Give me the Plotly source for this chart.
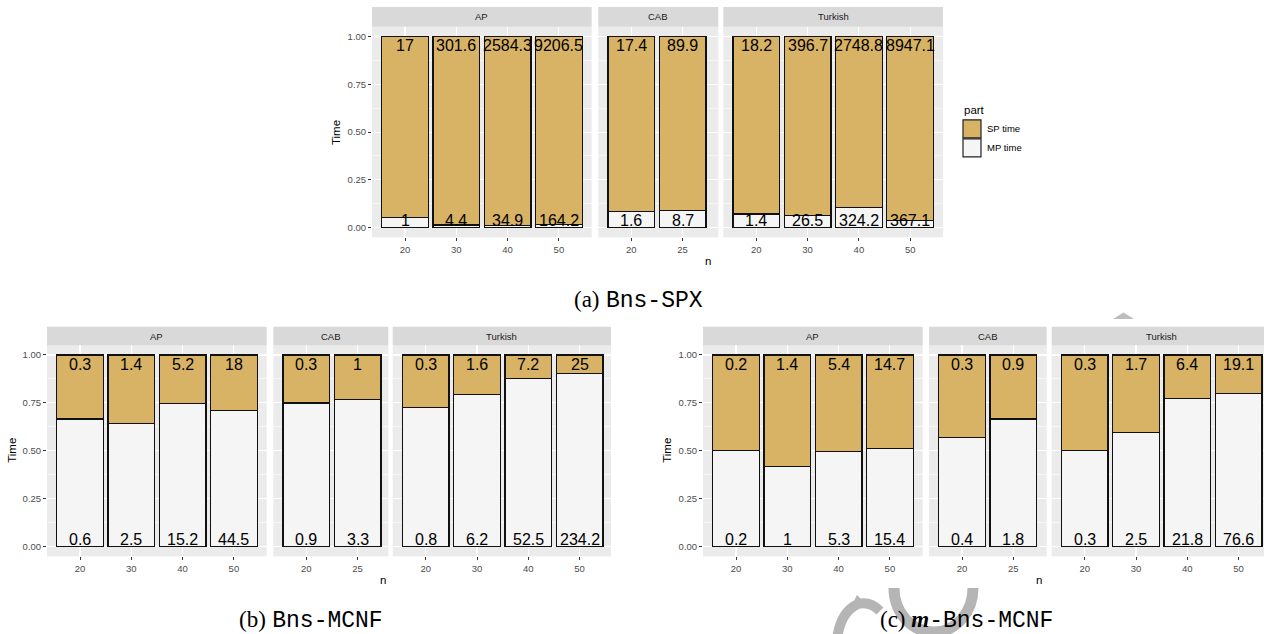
import plotly.graph_objects as go

W, H = 1264, 634

# ---------------- data ----------------
facet_names = ["AP", "CAB", "Turkish"]
n_ap = ["20", "30", "40", "50"]
n_cab = ["20", "25"]
n_tur = ["20", "30", "40", "50"]
part_names = ["SP time", "MP time"]

# (a) Bns-SPX
spx_sp_ap = [17, 301.6, 2584.3, 9206.5]
spx_mp_ap = [1, 4.4, 34.9, 164.2]
spx_sp_cab = [17.4, 89.9]
spx_mp_cab = [1.6, 8.7]
spx_sp_tur = [18.2, 396.7, 2748.8, 8947.1]
spx_mp_tur = [1.4, 26.5, 324.2, 367.1]

# (b) Bns-MCNF
mcnf_sp_ap = [0.3, 1.4, 5.2, 18]
mcnf_mp_ap = [0.6, 2.5, 15.2, 44.5]
mcnf_sp_cab = [0.3, 1]
mcnf_mp_cab = [0.9, 3.3]
mcnf_sp_tur = [0.3, 1.6, 7.2, 25]
mcnf_mp_tur = [0.8, 6.2, 52.5, 234.2]

# (c) m-Bns-MCNF
mmcnf_sp_ap = [0.2, 1.4, 5.4, 14.7]
mmcnf_mp_ap = [0.2, 1, 5.3, 15.4]
mmcnf_sp_cab = [0.3, 0.9]
mmcnf_mp_cab = [0.4, 1.8]
mmcnf_sp_tur = [0.3, 1.7, 6.4, 19.1]
mmcnf_mp_tur = [0.3, 2.5, 21.8, 76.6]

y_tickvals = [0, 0.25, 0.5, 0.75, 1.0]
y_ticktext = ["0.00", "0.25", "0.50", "0.75", "1.00"]

charts = [
    [(n_ap, spx_sp_ap, spx_mp_ap), (n_cab, spx_sp_cab, spx_mp_cab), (n_tur, spx_sp_tur, spx_mp_tur)],
    [(n_ap, mcnf_sp_ap, mcnf_mp_ap), (n_cab, mcnf_sp_cab, mcnf_mp_cab), (n_tur, mcnf_sp_tur, mcnf_mp_tur)],
    [(n_ap, mmcnf_sp_ap, mmcnf_mp_ap), (n_cab, mmcnf_sp_cab, mmcnf_mp_cab), (n_tur, mmcnf_sp_tur, mmcnf_mp_tur)],
]

# ---------------- layout geometry (pixels) ----------------
geom_x = [
    [(372, 591.7), (598.3, 718.3), (723.3, 943)],
    [(47, 266.7), (273.3, 388.3), (392.7, 611)],
    [(703, 922.7), (929, 1046.7), (1051.7, 1271.4)],
]
# panel top, panel bottom, strip top
geom_y = [(26.8, 237.3, 7.0), (345.4, 556.3, 326.7), (345.4, 556.3, 326.7)]
ytitle_x = [336, 12, 667]
ntitle = [(707.6, 260.5), (383, 580), (1038.5, 580)]
captions = [
    (638, 300, '<span style="font-family:Liberation Serif">(a)</span> '
               '<span style="font-family:Liberation Mono">Bns-SPX</span>'),
    (311, 620, '<span style="font-family:Liberation Serif">(b)</span> '
               '<span style="font-family:Liberation Mono">Bns-MCNF</span>'),
    (966.5, 620, '<span style="font-family:Liberation Serif">(c) <b><i>m</i></b></span>'
                 '<span style="font-family:Liberation Mono">-Bns-MCNF</span>'),
]

SP_COL = "#D8B365"
MP_COL = "#F5F5F5"
SCALE = 51.3   # px per category unit
PAD = 33.0     # px from panel left to first category centre


def px(x):
    return x / W


def py(y):
    return 1 - y / H


fig = go.Figure()
shapes = []
annotations = []
layout_axes = {}

ai = 0
for ci, chart in enumerate(charts):
    ptop, pbot, stop = geom_y[ci]
    for fi, (cats, sp, mp) in enumerate(chart):
        ai += 1
        left, right = geom_x[ci][fi]
        right_c = min(right, W)
        xa = "x" if ai == 1 else f"x{ai}"
        ya = "y" if ai == 1 else f"y{ai}"
        xkey = "xaxis" if ai == 1 else f"xaxis{ai}"
        ykey = "yaxis" if ai == 1 else f"yaxis{ai}"

        fig.add_trace(go.Bar(
            x=cats, y=mp, name=part_names[1], xaxis=xa, yaxis=ya, showlegend=False,
            marker=dict(color=MP_COL, line=dict(color="#111111", width=1.2)),
        ))
        fig.add_trace(go.Bar(
            x=cats, y=sp, name=part_names[0], xaxis=xa, yaxis=ya, showlegend=False,
            marker=dict(color=SP_COL, line=dict(color="#111111", width=1.2)),
        ))

        r0 = -PAD / SCALE
        r1 = r0 + (right_c - left) / SCALE
        layout_axes[xkey] = dict(
            domain=[px(left), px(right_c)], range=[r0, r1], anchor=ya,
            type="category", categoryorder="array", categoryarray=cats,
            showgrid=True, gridcolor="white", gridwidth=1.1, zeroline=False,
            showline=False, ticks="outside", ticklen=3, tickwidth=1, tickcolor="#333333",
            tickfont=dict(size=9.5, color="#4D4D4D"), fixedrange=True,
        )
        first = fi == 0
        layout_axes[ykey] = dict(
            domain=[py(pbot), py(ptop)], range=[-0.05, 1.05], anchor=xa,
            tickvals=y_tickvals, ticktext=y_ticktext, showticklabels=first,
            ticks="outside" if first else "", ticklen=3, tickwidth=1, tickcolor="#333333",
            tickfont=dict(size=9.5, color="#4D4D4D"),
            showgrid=True, gridcolor="white", gridwidth=1.1, zeroline=False, showline=False,
            minor=dict(tickvals=[0.125, 0.375, 0.625, 0.875], showgrid=True,
                       gridcolor="white", gridwidth=0.55, ticks=""),
            fixedrange=True,
        )

        # value labels (x given as category serial number)
        for j in range(len(cats)):
            annotations.append(dict(
                x=j, y=1, xref=xa, yref=ya, text=f"{sp[j]:g}", showarrow=False,
                yanchor="top", xanchor="center", yshift=1,
                font=dict(size=16, color="black", family="Liberation Sans"),
            ))
            annotations.append(dict(
                x=j, y=0, xref=xa, yref=ya, text=f"{mp[j]:g}", showarrow=False,
                yanchor="bottom", xanchor="center", yshift=-3,
                font=dict(size=16, color="black", family="Liberation Sans"),
            ))

        # strip
        shapes.append(dict(type="rect", xref="paper", yref="paper",
                           x0=px(left), x1=px(right_c), y0=py(ptop), y1=py(stop),
                           fillcolor="#D9D9D9", line=dict(width=0), layer="below"))
        annotations.append(dict(
            x=px((left + right) / 2), y=py((ptop + stop) / 2), xref="paper", yref="paper",
            text=facet_names[fi], showarrow=False, xanchor="center", yanchor="middle",
            font=dict(size=9.5, color="#1A1A1A"),
        ))

    # axis titles
    annotations.append(dict(
        x=px(ytitle_x[ci]), y=py((ptop + pbot) / 2), xref="paper", yref="paper",
        text="Time", textangle=-90, showarrow=False, xanchor="center", yanchor="middle",
        font=dict(size=11.5, color="black"),
    ))
    annotations.append(dict(
        x=px(ntitle[ci][0]), y=py(ntitle[ci][1]), xref="paper", yref="paper",
        text="n", showarrow=False, xanchor="center", yanchor="middle",
        font=dict(size=11.5, color="black"),
    ))
    cx, cy, ctext = captions[ci]
    annotations.append(dict(
        x=px(cx), y=py(cy), xref="paper", yref="paper", text=ctext, showarrow=False,
        xanchor="center", yanchor="middle", font=dict(size=23, color="black"),
    ))

# legend of chart (a)
annotations.append(dict(x=px(962), y=py(110), xref="paper", yref="paper", text="part",
                        showarrow=False, xanchor="left", yanchor="middle",
                        font=dict(size=11.5, color="black")))
for k, (lab, col, y0, y1) in enumerate([(part_names[0], SP_COL, 119.3, 138.3),
                                        (part_names[1], MP_COL, 138.3, 157.3)]):
    shapes.append(dict(type="rect", xref="paper", yref="paper",
                       x0=px(963), x1=px(981), y0=py(y1 - 0.5), y1=py(y0 + 0.5),
                       fillcolor=col, line=dict(color="#222222", width=1.2)))
    annotations.append(dict(x=px(984.5), y=py((y0 + y1) / 2), xref="paper", yref="paper",
                            text=lab, showarrow=False, xanchor="left", yanchor="middle",
                            font=dict(size=9.5, color="black")))


def pth(points_cmds):
    out = []
    for cmd in points_cmds:
        if isinstance(cmd, str):
            out.append(cmd)
        else:
            out.append(f"{px(cmd[0]):.5f},{py(cmd[1]):.5f}")
    return " ".join(out)


# grey overlay artefacts present in the reference picture
shapes.append(dict(type="path", xref="paper", yref="paper",
                   path=pth(["M", (1113, 319), "L", (1123.5, 312.5), "L", (1134, 319), "Z"]),
                   fillcolor="#BDBDBD", line=dict(width=0), layer="above"))
shapes.append(dict(type="path", xref="paper", yref="paper",
                   path=pth(["M", (894, 588), "C", (894, 612), (911, 632), (934, 632),
                             "C", (956, 632), (973, 612), (973, 588)]),
                   fillcolor="rgba(0,0,0,0)", line=dict(color="#B5B5B5", width=11), layer="below"))
shapes.append(dict(type="path", xref="paper", yref="paper",
                   path=pth(["M", (837, 640), "Q", (840, 612), (858, 604), "Q", (870, 601), (880, 611)]),
                   fillcolor="rgba(0,0,0,0)", line=dict(color="#B5B5B5", width=10), layer="below"))
shapes.append(dict(type="path", xref="paper", yref="paper",
                   path=pth(["M", (850, 609), "L", (857, 595), "L", (866, 604), "Z"]),
                   fillcolor="#B5B5B5", line=dict(width=0), layer="below"))

fig.update_layout(
    width=W, height=H, margin=dict(l=0, r=0, t=0, b=0),
    paper_bgcolor="white", plot_bgcolor="#EBEBEB",
    barmode="stack", barnorm="fraction", bargap=0.09,
    font=dict(family="Liberation Sans", color="black"),
    showlegend=False, shapes=shapes, annotations=annotations,
    **layout_axes,
)

fig.write_html(
    "out.html",
    config={"displayModeBar": False, "staticPlot": True},
    post_script="document.body.style.margin='0px';document.body.style.overflow='hidden';",
)
